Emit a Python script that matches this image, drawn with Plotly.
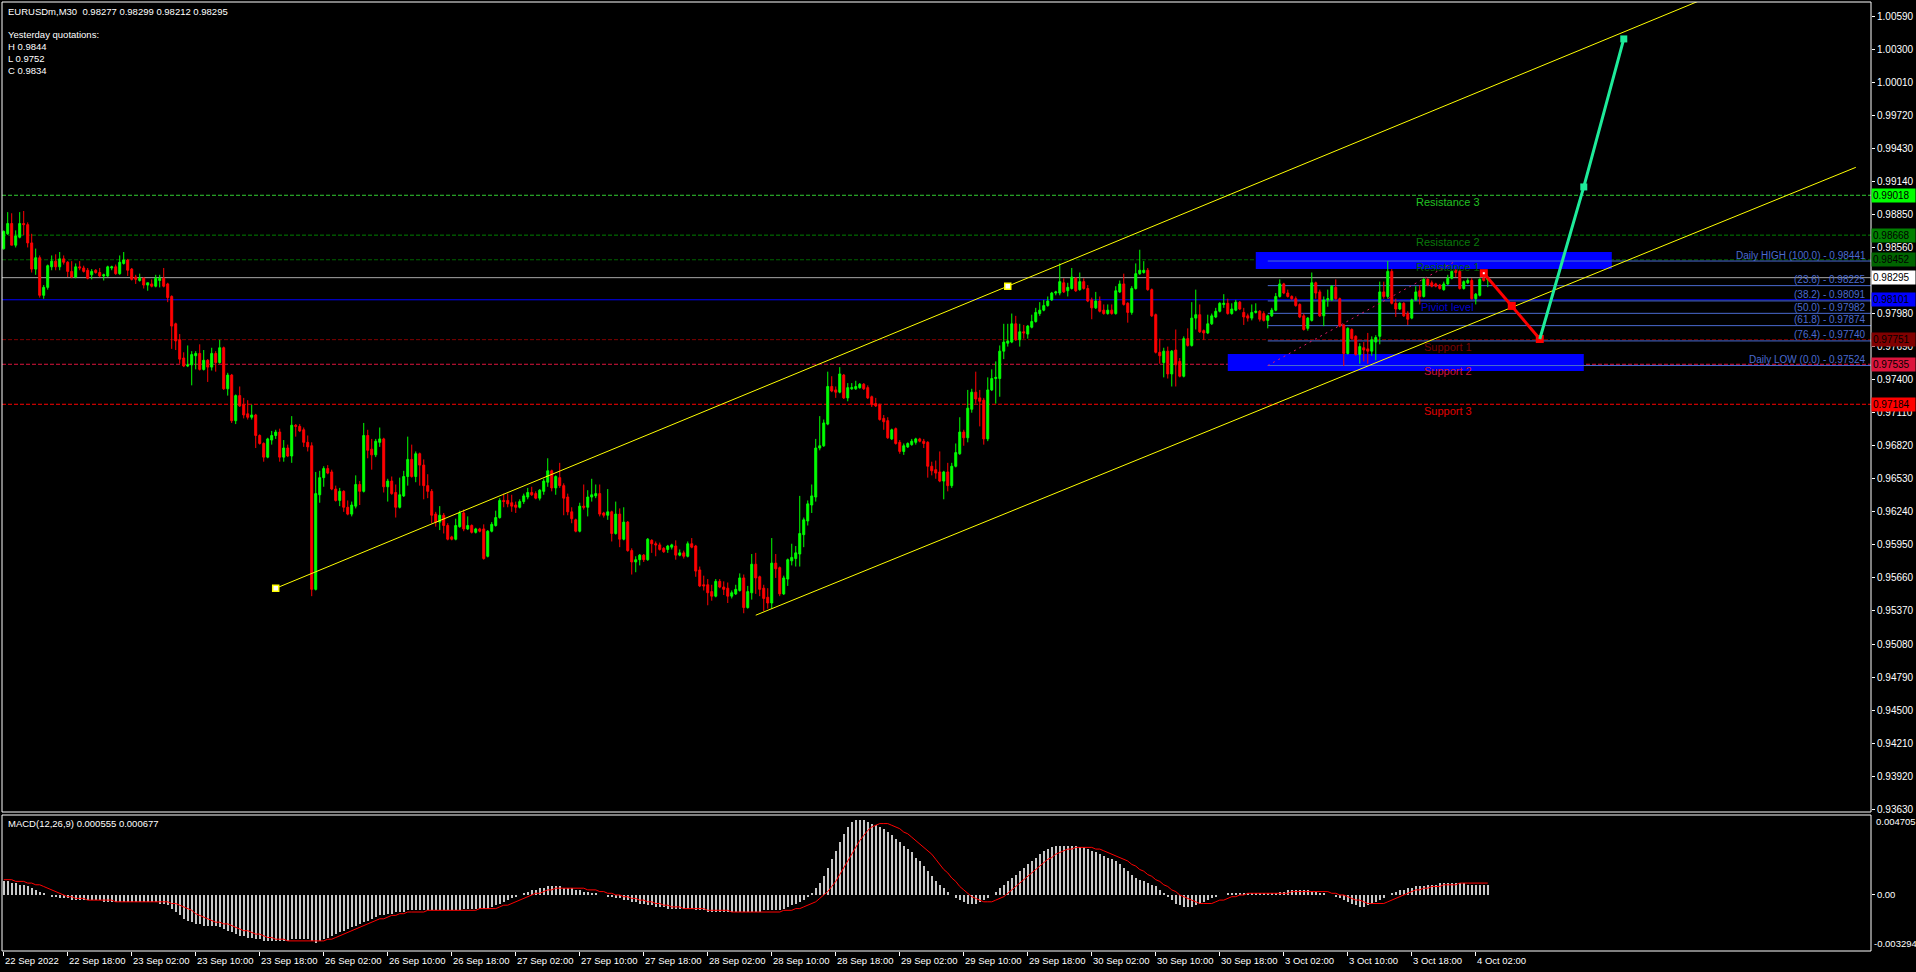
import plotly.graph_objects as go

# ---------------- DATA ----------------
symbol_header = "EURUSDm,M30  0.98277 0.98299 0.98212 0.98295"
yesterday_lines = ["Yesterday quotations:", "H 0.9844", "L 0.9752", "C 0.9834"]

opens = [
 0.9855,0.9868,0.9877,0.9858,0.9865,0.9877,0.9876,0.9860,0.9837,0.9847,
 0.9814,0.9821,0.9839,0.9844,0.9839,0.9846,0.9843,0.9835,0.9830,0.9839,
 0.9838,0.9836,0.9832,0.9836,0.9834,0.9831,0.9831,0.9838,0.9839,0.9833,
 0.9842,0.9845,0.9837,0.9830,0.9827,0.9829,0.9823,0.9824,0.9822,0.9827,
 0.9829,0.9824,0.9813,0.9789,0.9775,0.9759,0.9752,0.9753,0.9761,0.9763,
 0.9749,0.9757,0.9751,0.9763,0.9755,0.9768,0.9732,0.9744,0.9704,0.9726,
 0.9718,0.9710,0.9707,0.9709,0.9691,0.9684,0.9672,0.9687,0.9691,0.9694,
 0.9672,0.9680,0.9673,0.9700,0.9699,0.9696,0.9685,0.9682,0.9556,0.9639,
 0.9654,0.9662,0.9659,0.9644,0.9634,0.9642,0.9628,0.9622,0.9629,0.9648,
 0.9642,0.9691,0.9679,0.9674,0.9685,0.9688,0.9646,0.9651,0.9641,0.9628,
 0.9638,0.9655,0.9670,0.9655,0.9675,0.9665,0.9647,0.9642,0.9622,0.9615,
 0.9621,0.9612,0.9602,0.9600,0.9611,0.9623,0.9609,0.9612,0.9606,0.9609,
 0.9609,0.9585,0.9607,0.9612,0.9619,0.9634,0.9634,0.9632,0.9630,0.9628,
 0.9633,0.9637,0.9641,0.9640,0.9636,0.9642,0.9650,0.9660,0.9645,0.9654,
 0.9647,0.9637,0.9624,0.9617,0.9607,0.9629,0.9628,0.9637,0.9638,0.9640,
 0.9623,0.9621,0.9624,0.9605,0.9622,0.9600,0.9615,0.9590,0.9580,0.9582,
 0.9586,0.9582,0.9599,0.9596,0.9595,0.9592,0.9591,0.9593,0.9594,0.9586,
 0.9588,0.9585,0.9596,0.9594,0.9573,0.9560,0.9560,0.9554,0.9550,0.9563,
 0.9558,0.9557,0.9550,0.9552,0.9555,0.9566,0.9540,0.9553,0.9578,0.9567,
 0.9557,0.9549,0.9544,0.9579,0.9575,0.9552,0.9565,0.9581,0.9583,0.9587,
 0.9604,0.9616,0.9630,0.9637,0.9680,0.9682,0.9701,0.9734,0.9731,0.9729,
 0.9744,0.9724,0.9732,0.9732,0.9733,0.9736,0.9733,0.9725,0.9719,0.9718,
 0.9706,0.9704,0.9688,0.9697,0.9685,0.9677,0.9681,0.9683,0.9685,0.9688,
 0.9686,0.9685,0.9664,0.9661,0.9659,0.9651,0.9659,0.9647,0.9664,0.9675,
 0.9694,0.9689,0.9714,0.9729,0.9724,0.9722,0.9688,0.9731,0.9741,0.9741,
 0.9765,0.9772,0.9773,0.9789,0.9775,0.9782,0.9780,0.9786,0.9791,0.9798,
 0.9801,0.9805,0.9810,0.9816,0.9816,0.9825,0.9818,0.9820,0.9829,0.9819,
 0.9826,0.9820,0.9810,0.9803,0.9809,0.9801,0.9798,0.9801,0.9798,0.9817,
 0.9824,0.9807,0.9799,0.9820,0.9833,0.9834,0.9836,0.9819,0.9797,0.9764,
 0.9755,0.9765,0.9745,0.9766,0.9756,0.9743,0.9776,0.9770,0.9794,0.9797,
 0.9783,0.9781,0.9789,0.9795,0.9800,0.9806,0.9807,0.9798,0.9801,0.9808,
 0.9799,0.9796,0.9794,0.9799,0.9800,0.9798,0.9792,0.9796,0.9801,0.9813,
 0.9824,0.9816,0.9813,0.9811,0.9806,0.9796,0.9785,0.9792,0.9825,0.9817,
 0.9796,0.9810,0.9810,0.9821,0.9811,0.9788,0.9763,0.9784,0.9778,0.9762,
 0.9768,0.9767,0.9765,0.9773,0.9778,0.9817,0.9813,0.9835,0.9807,0.9802,
 0.9807,0.9798,0.9794,0.9810,0.9818,0.9813,0.9828,0.9825,0.9824,0.9823,
 0.9819,0.9824,0.9829,0.9836,0.9835,0.9820,0.9825,0.9827,0.9811,0.9814,0.9829,0.98277,
]
highs = [
 0.9871,0.9887,0.9886,0.9871,0.9887,0.9888,0.9878,0.9868,0.9855,0.9849,
 0.9823,0.9841,0.9849,0.9850,0.9852,0.9849,0.9844,0.9844,0.9842,0.9844,
 0.9840,0.9838,0.9837,0.9837,0.9838,0.9833,0.9840,0.9840,0.9841,0.9849,
 0.9852,0.9846,0.9838,0.9832,0.9833,0.9830,0.9825,0.9828,0.9832,0.9832,
 0.9838,0.9825,0.9814,0.9790,0.9780,0.9764,0.9770,0.9765,0.9765,0.9771,
 0.9766,0.9758,0.9768,0.9765,0.9775,0.9769,0.9746,0.9745,0.9727,0.9734,
 0.9724,0.9722,0.9718,0.9710,0.9692,0.9685,0.9689,0.9695,0.9696,0.9697,
 0.9687,0.9683,0.9708,0.9701,0.9701,0.9698,0.9691,0.9685,0.9659,0.9660,
 0.9664,0.9665,0.9661,0.9647,0.9645,0.9643,0.9634,0.9633,0.9656,0.9651,
 0.9702,0.9696,0.9688,0.9688,0.9698,0.9689,0.9653,0.9655,0.9648,0.9654,
 0.9660,0.9690,0.9683,0.9677,0.9676,0.9670,0.9657,0.9644,0.9624,0.9629,
 0.9623,0.9614,0.9603,0.9618,0.9625,0.9626,0.9620,0.9613,0.9610,0.9610,
 0.9613,0.9608,0.9615,0.9625,0.9636,0.9640,0.9640,0.9639,0.9633,0.9635,
 0.9640,0.9645,0.9646,0.9642,0.9644,0.9653,0.9671,0.9661,0.9656,0.9667,
 0.9649,0.9640,0.9628,0.9618,0.9632,0.9648,0.9643,0.9653,0.9648,0.9648,
 0.9624,0.9644,0.9625,0.9633,0.9627,0.9628,0.9616,0.9592,0.9585,0.9587,
 0.9587,0.9601,0.9600,0.9598,0.9597,0.9593,0.9595,0.9596,0.9599,0.9591,
 0.9590,0.9598,0.9601,0.9595,0.9576,0.9568,0.9565,0.9560,0.9565,0.9565,
 0.9563,0.9562,0.9555,0.9560,0.9570,0.9569,0.9559,0.9587,0.9588,0.9568,
 0.9560,0.9557,0.9601,0.9587,0.9576,0.9568,0.9583,0.9596,0.9594,0.9638,
 0.9619,0.9634,0.9648,0.9688,0.9708,0.9705,0.9747,0.9743,0.9734,0.9751,
 0.9745,0.9737,0.9737,0.9739,0.9737,0.9737,0.9735,0.9726,0.9724,0.9719,
 0.9709,0.9707,0.9697,0.9698,0.9687,0.9684,0.9685,0.9688,0.9689,0.9689,
 0.9688,0.9686,0.9668,0.9669,0.9677,0.9660,0.9667,0.9667,0.9684,0.9707,
 0.9696,0.9731,0.9732,0.9747,0.9731,0.9724,0.9742,0.9749,0.9756,0.9770,
 0.9789,0.9789,0.9798,0.9796,0.9789,0.9788,0.9788,0.9797,0.9803,0.9808,
 0.9810,0.9813,0.9817,0.9818,0.9842,0.9829,0.9825,0.9838,0.9830,0.9834,
 0.9829,0.9823,0.9812,0.9817,0.9813,0.9806,0.9806,0.9806,0.9822,0.9827,
 0.9833,0.9808,0.9822,0.9842,0.9854,0.9844,0.9838,0.9820,0.9798,0.9776,
 0.9768,0.9769,0.9766,0.9784,0.9759,0.9778,0.9785,0.9808,0.9819,0.9806,
 0.9784,0.9797,0.9798,0.9803,0.9808,0.9815,0.9811,0.9807,0.9810,0.9809,
 0.9803,0.9798,0.9806,0.9807,0.9801,0.9800,0.9797,0.9803,0.9816,0.9828,
 0.9825,0.9819,0.9814,0.9813,0.9807,0.9798,0.9795,0.9834,0.9826,0.9819,
 0.9813,0.9819,0.9823,0.9828,0.9812,0.9789,0.9786,0.9785,0.9779,0.9772,
 0.9773,0.9781,0.9778,0.9779,0.9826,0.9826,0.9844,0.9837,0.9811,0.9808,
 0.9808,0.9800,0.9811,0.9822,0.9823,0.9829,0.9829,0.9827,0.9825,0.9824,
 0.9826,0.9832,0.9836,0.9837,0.9836,0.9827,0.9829,0.9829,0.9816,0.9829,0.9830,0.98299,
]
lows = [
 0.9854,0.9867,0.9858,0.9856,0.9864,0.9867,0.9856,0.9834,0.9832,0.9812,
 0.9811,0.9819,0.9836,0.9836,0.9836,0.9841,0.9830,0.9829,0.9829,0.9836,
 0.9834,0.9828,0.9828,0.9833,0.9830,0.9827,0.9830,0.9836,0.9832,0.9832,
 0.9841,0.9831,0.9827,0.9824,0.9826,0.9820,0.9818,0.9821,0.9821,0.9821,
 0.9821,0.9808,0.9767,0.9766,0.9754,0.9751,0.9751,0.9735,0.9749,0.9748,
 0.9748,0.9738,0.9748,0.9747,0.9754,0.9731,0.9726,0.9702,0.9701,0.9716,
 0.9706,0.9705,0.9705,0.9680,0.9683,0.9668,0.9671,0.9683,0.9688,0.9668,
 0.9668,0.9672,0.9667,0.9690,0.9694,0.9681,0.9677,0.9550,0.9555,0.9632,
 0.9646,0.9657,0.9643,0.9633,0.9629,0.9624,0.9621,0.9620,0.9627,0.9630,
 0.9641,0.9671,0.9661,0.9672,0.9681,0.9641,0.9633,0.9639,0.9619,0.9627,
 0.9637,0.9647,0.9654,0.9650,0.9647,0.9635,0.9636,0.9614,0.9611,0.9608,
 0.9605,0.9599,0.9599,0.9599,0.9610,0.9607,0.9608,0.9605,0.9605,0.9606,
 0.9582,0.9584,0.9606,0.9611,0.9618,0.9628,0.9628,0.9624,0.9623,0.9627,
 0.9631,0.9635,0.9638,0.9635,0.9634,0.9639,0.9646,0.9642,0.9639,0.9645,
 0.9621,0.9621,0.9614,0.9606,0.9606,0.9626,0.9620,0.9633,0.9636,0.9620,
 0.9619,0.9617,0.9598,0.9604,0.9593,0.9599,0.9589,0.9569,0.9571,0.9577,
 0.9580,0.9581,0.9588,0.9585,0.9590,0.9588,0.9588,0.9591,0.9582,0.9585,
 0.9583,0.9584,0.9592,0.9567,0.9558,0.9555,0.9542,0.9546,0.9549,0.9557,
 0.9551,0.9544,0.9548,0.9551,0.9554,0.9535,0.9539,0.9547,0.9552,0.9550,
 0.9537,0.9539,0.9539,0.9566,0.9550,0.9551,0.9559,0.9577,0.9576,0.9576,
 0.9593,0.9612,0.9623,0.9633,0.9678,0.9681,0.9700,0.9729,0.9724,0.9728,
 0.9723,0.9721,0.9731,0.9731,0.9732,0.9731,0.9723,0.9716,0.9716,0.9704,
 0.9696,0.9688,0.9687,0.9683,0.9675,0.9674,0.9680,0.9682,0.9683,0.9685,
 0.9680,0.9654,0.9656,0.9653,0.9650,0.9635,0.9642,0.9645,0.9663,0.9674,
 0.9682,0.9685,0.9711,0.9719,0.9699,0.9683,0.9686,0.9730,0.9719,0.9725,
 0.9758,0.9769,0.9772,0.9774,0.9769,0.9776,0.9776,0.9785,0.9790,0.9796,
 0.9800,0.9804,0.9809,0.9814,0.9814,0.9816,0.9813,0.9819,0.9817,0.9818,
 0.9819,0.9808,0.9793,0.9802,0.9799,0.9797,0.9797,0.9797,0.9797,0.9816,
 0.9805,0.9790,0.9797,0.9819,0.9832,0.9833,0.9818,0.9795,0.9763,0.9754,
 0.9742,0.9741,0.9734,0.9734,0.9742,0.9742,0.9769,0.9769,0.9784,0.9781,
 0.9775,0.9780,0.9788,0.9794,0.9799,0.9803,0.9797,0.9797,0.9800,0.9801,
 0.9788,0.9791,0.9792,0.9798,0.9791,0.9791,0.9785,0.9795,0.9800,0.9812,
 0.9815,0.9812,0.9810,0.9804,0.9794,0.9783,0.9783,0.9791,0.9811,0.9795,
 0.9787,0.9804,0.9809,0.9810,0.9786,0.9752,0.9762,0.9775,0.9761,0.9754,
 0.9756,0.9754,0.9761,0.9757,0.9771,0.9811,0.9811,0.9806,0.9795,0.9801,
 0.9795,0.9788,0.9793,0.9809,0.9806,0.9812,0.9822,0.9821,0.9821,0.9819,
 0.9818,0.9823,0.9828,0.9830,0.9819,0.9819,0.9824,0.9810,0.9806,0.9813,0.9826,0.98212,
]
closes = [
 0.9870,0.9877,0.9858,0.9866,0.9877,0.9876,0.9860,0.9837,0.9847,0.9814,
 0.9821,0.9840,0.9844,0.9839,0.9846,0.9843,0.9835,0.9830,0.9839,0.9838,
 0.9835,0.9829,0.9835,0.9834,0.9831,0.9832,0.9839,0.9839,0.9833,0.9843,
 0.9845,0.9836,0.9828,0.9828,0.9829,0.9823,0.9825,0.9822,0.9829,0.9829,
 0.9822,0.9812,0.9787,0.9774,0.9758,0.9752,0.9753,0.9762,0.9763,0.9749,
 0.9757,0.9751,0.9763,0.9755,0.9768,0.9732,0.9744,0.9704,0.9726,0.9717,
 0.9709,0.9707,0.9709,0.9691,0.9684,0.9672,0.9688,0.9691,0.9694,0.9672,
 0.9680,0.9673,0.9700,0.9699,0.9695,0.9685,0.9681,0.9556,0.9640,0.9654,
 0.9662,0.9658,0.9644,0.9634,0.9642,0.9628,0.9622,0.9630,0.9648,0.9642,
 0.9691,0.9678,0.9674,0.9686,0.9688,0.9646,0.9651,0.9640,0.9628,0.9639,
 0.9655,0.9670,0.9655,0.9675,0.9665,0.9647,0.9642,0.9621,0.9615,0.9621,
 0.9612,0.9600,0.9600,0.9612,0.9623,0.9609,0.9612,0.9606,0.9609,0.9607,
 0.9583,0.9607,0.9613,0.9619,0.9634,0.9633,0.9631,0.9629,0.9628,0.9633,
 0.9638,0.9641,0.9639,0.9636,0.9643,0.9651,0.9660,0.9645,0.9655,0.9647,
 0.9636,0.9624,0.9618,0.9607,0.9629,0.9628,0.9637,0.9639,0.9640,0.9622,
 0.9621,0.9624,0.9605,0.9622,0.9600,0.9615,0.9590,0.9580,0.9582,0.9586,
 0.9582,0.9600,0.9596,0.9595,0.9591,0.9589,0.9594,0.9595,0.9586,0.9588,
 0.9585,0.9596,0.9593,0.9572,0.9559,0.9559,0.9553,0.9550,0.9563,0.9558,
 0.9556,0.9550,0.9553,0.9556,0.9566,0.9540,0.9554,0.9578,0.9566,0.9556,
 0.9548,0.9544,0.9579,0.9574,0.9552,0.9566,0.9582,0.9584,0.9588,0.9605,
 0.9617,0.9631,0.9638,0.9680,0.9682,0.9702,0.9734,0.9730,0.9729,0.9745,
 0.9724,0.9733,0.9733,0.9734,0.9736,0.9732,0.9724,0.9718,0.9717,0.9705,
 0.9703,0.9689,0.9696,0.9684,0.9677,0.9682,0.9684,0.9686,0.9688,0.9686,
 0.9684,0.9664,0.9660,0.9658,0.9651,0.9659,0.9647,0.9664,0.9676,0.9694,
 0.9689,0.9715,0.9729,0.9723,0.9721,0.9688,0.9731,0.9741,0.9742,0.9765,
 0.9773,0.9774,0.9789,0.9775,0.9782,0.9781,0.9787,0.9791,0.9799,0.9801,
 0.9805,0.9809,0.9816,0.9817,0.9826,0.9817,0.9821,0.9830,0.9818,0.9826,
 0.9820,0.9809,0.9803,0.9809,0.9800,0.9798,0.9801,0.9798,0.9818,0.9824,
 0.9806,0.9799,0.9820,0.9833,0.9836,0.9836,0.9819,0.9796,0.9764,0.9761,
 0.9765,0.9745,0.9765,0.9753,0.9743,0.9776,0.9770,0.9794,0.9797,0.9782,
 0.9781,0.9789,0.9796,0.9800,0.9807,0.9807,0.9798,0.9802,0.9808,0.9802,
 0.9795,0.9794,0.9799,0.9800,0.9793,0.9792,0.9796,0.9801,0.9813,0.9824,
 0.9816,0.9813,0.9811,0.9805,0.9795,0.9784,0.9794,0.9825,0.9816,0.9796,
 0.9810,0.9811,0.9822,0.9811,0.9787,0.9763,0.9785,0.9776,0.9762,0.9769,
 0.9766,0.9765,0.9775,0.9777,0.9817,0.9813,0.9835,0.9807,0.9802,0.9807,
 0.9796,0.9793,0.9810,0.9817,0.9813,0.9828,0.9823,0.9822,0.9822,0.9820,
 0.9824,0.9829,0.9835,0.9834,0.9820,0.9826,0.9827,0.9811,0.9815,0.9828,0.9827,0.98295,
]

# MACD(12,26,9) main (histogram) and signal, read in units of 1e-4
macd_main_e4 = (
 [8,8,7,7,6,6,5,4,3] +
 [2,1,0,-1,-1,-2,-2,-2,-3,-3] +
 [-3,-3,-3,-3,-3,-3,-4,-4,-4,-4,-4,-4,-4,-4,-4,-4,-4,-4,-4,-4,-5] +
 [-5,-6,-8,-10,-12,-14,-15,-16,-17,-17,-18,-18,-18,-18,-19,-20,-21,-22,-23,-24] +
 [-24,-25,-25,-26,-26,-27,-27,-27,-27,-27,-27,-27,-26,-26,-26,-26,-26,-27] +
 [-28,-27,-26,-25,-24,-23,-22,-21,-20,-19,-18,-17,-16,-15] +
 [-14,-13,-12,-12,-11,-11,-10,-10,-10,-9,-9,-9,-9,-9,-9,-9,-9,-9,-9,-9] +
 [-9,-9,-9,-8,-8,-8,-8,-8,-8,-8,-7,-6,-5,-4,-3,-2,-1,0,1] +
 [2,3,3,4,4,5,5,5,5,4,4,4,3,3,2,2,1,1] +
 [0,0,-1,-1,-2,-2,-3,-3,-4,-4,-5,-5] +
 [-6,-6,-7,-7,-7,-8,-8,-8,-8,-8,-8,-8,-9,-9,-9,-10,-10,-10,-10,-10,
  -10,-10,-10,-10,-10,-10,-10,-10,-10,-9,-9,-9,-9,-9,-8,-7,-6,-5,-4,-3] +
 [-1,1,4,7,11,16,21,26,31,36,40,43,44,44,44,43,42,41,40,39,37,35,33,31,29,27,25,22,20,17] +
 [14,11,8,6,4,2,0,-2,-3,-4,-5,-5,-5,-4,-3,-2,0,2,4,6] +
 [8,10,12,14,16,18,20,22,24,26,27,28,29,29,29,29,29,29,28,28,27,26,25,24,23] +
 [22,21,20,18,16,14,12,10,9,8,7,6,5,3,1,-1,-3,-5,-6,-7,-7,-7,-6,-5,-4] +
 [-3,-2,-1,0,0,1,1,1,1,1,1,1,1,1,1,1,1,1,2,2,3,3,3,3,3,3,2,2,1,1] +
 [0,0,-1,-2,-3,-4,-5,-6,-7,-7,-6,-5,-4,-3,-2] +
 [0,1,2,3,3,4,4,5,5,5,6,6,6,7,7,7,7,7,7,7,6,6,6,6,6,6]
)
macd_signal_e4 = (
 [9,9,9,8,8,8,7,7,6] +
 [6,5,4,3,2,1,0,-1,-1,-2] +
 [-2,-2,-3,-3,-3,-3,-3,-3,-3,-4,-4,-4,-4,-4,-4,-4,-4,-4,-4,-4,-4] +
 [-4,-4,-5,-5,-6,-7,-8,-9,-11,-12,-13,-14,-15,-16,-16,-17,-17,-18,-19,-20] +
 [-21,-21,-22,-23,-23,-24,-25,-25,-26,-26,-26,-27,-27,-27,-27,-27,-27,-27] +
 [-27,-27,-27,-26,-26,-25,-24,-23,-22,-21,-20,-19,-18,-17] +
 [-16,-15,-14,-14,-13,-12,-12,-11,-11,-10,-10,-10,-10,-10,-9,-9,-9,-9,-9,-9] +
 [-9,-9,-9,-9,-9,-9,-9,-8,-8,-8,-8,-8,-7,-6,-6,-5,-4,-3,-2] +
 [-1,0,1,1,2,3,3,4,4,4,4,4,4,4,4,3,3,3] +
 [2,2,1,1,0,0,-1,-1,-2,-2,-3,-3] +
 [-4,-4,-5,-5,-6,-6,-7,-7,-7,-8,-8,-8,-8,-8,-8,-9,-9,-9,-9,-9,
  -9,-10,-10,-10,-10,-10,-10,-10,-10,-10,-10,-10,-10,-10,-9,-9,-9,-8,-8,-7] +
 [-6,-5,-4,-2,0,2,5,8,12,16,20,24,28,32,35,38,40,41,42,42,42,41,40,39,37,36,34,32,30,28] +
 [26,24,21,18,15,13,10,8,5,3,1,-1,-2,-3,-4,-4,-4,-3,-2,-1] +
 [1,3,5,7,9,11,13,15,17,19,21,22,24,25,26,27,27,28,28,28,28,28,27,27,26] +
 [25,24,23,22,21,20,18,17,15,14,12,11,9,8,6,5,3,2,0,-1,-2,-3,-4,-5,-5] +
 [-5,-5,-4,-3,-3,-2,-1,-1,0,0,1,1,1,1,1,1,1,1,1,1,1,2,2,2,2,2,2,2,2,2] +
 [2,1,1,0,0,-1,-2,-3,-3,-4,-5,-5,-5,-5,-5] +
 [-4,-3,-2,-1,0,1,2,3,3,4,4,5,5,5,6,6,6,6,7,7,7,7,7,7,7,7]
)
macd_label = "MACD(12,26,9) 0.000555 0.000677"
macd_axis_max = 0.004705
macd_axis_min = -0.003294

# time axis (bar index of each label)
time_label_bars = [0,16,32,48,64,80,96,112,128,144,160,176,192,208,224,240,256,272,288,304,320,336,352,368]
time_labels = ["22 Sep 2022","22 Sep 18:00","23 Sep 02:00","23 Sep 10:00","23 Sep 18:00",
               "26 Sep 02:00","26 Sep 10:00","26 Sep 18:00","27 Sep 02:00","27 Sep 10:00",
               "27 Sep 18:00","28 Sep 02:00","28 Sep 10:00","28 Sep 18:00","29 Sep 02:00",
               "29 Sep 10:00","29 Sep 18:00","30 Sep 02:00","30 Sep 10:00","30 Sep 18:00",
               "3 Oct 02:00","3 Oct 10:00","3 Oct 18:00","4 Oct 02:00"]

price_ticks = [0.93630,0.93920,0.94210,0.94500,0.94790,0.95080,0.95370,0.95660,0.95950,
               0.96240,0.96530,0.96820,0.97110,0.97400,0.97690,0.97980,0.98270,0.98560,
               0.98850,0.99140,0.99430,0.99720,1.00010,1.00300,1.00590]
price_range = [0.93606, 1.00714]

# pivot levels
level_names = ["Resistance 3","Resistance 2","Resistance 1","Piviot level","Support 1","Support 2","Support 3"]
level_values = [0.99018,0.98668,0.98452,0.98101,0.97751,0.97535,0.97184]
level_line_colors = ["#32CD32","#008000","#006400","#0000FF","#800000","#DC143C","#FF0000"]
level_text_colors = ["#22C322","#0A7A0A","#065F06","#0000D0","#7A0000","#D0123A","#E00000"]
level_box_colors = ["#00FF00","#008000","#006400","#0000FF","#800000","#DC143C","#FF0000"]
level_dashed = [True, True, True, False, True, True, True]
level_label_bar = 361
bid_price = 0.98295

# Fibonacci of yesterday (3 Oct)
fib_pcts = ["Daily HIGH (100.0)","(23.6)","(38.2)","(50.0)","(61.8)","(76.4)","Daily LOW (0.0)"]
fib_values = [0.98441,0.98225,0.98091,0.97982,0.97874,0.97740,0.97524]
fib_start_bar = 316
fib_end_bar = 363

# zones (bar from, bar to, price low, price high)
zone_bars = [[313, 402], [306, 395]]
zone_prices = [[0.98370, 0.98520], [0.97476, 0.97625]]

# channel
upper_anchor_bars = [68, 251]
upper_anchor_prices = [0.95569, 0.98220]
lower_bars = [188, 463]
lower_prices = [0.95333, 0.99263]

# forecast path
down_bars = [370, 377, 384]
down_prices = [0.98334, 0.98047, 0.97757]
up_bars = [384, 395, 405]
up_prices = [0.97757, 0.99091, 1.00390]

# ---------------- FIGURE ----------------
W, H = 1916, 972
L, R, T, B = 2, 45, 2, 21
ph = H - T - B
main_bottom_px = 812
macd_top_px = 815
main_dom = [(H - B - main_bottom_px) / ph, 1.0]
macd_dom = [0.0, (H - B - macd_top_px) / ph]
x_range = [-0.425, 466.8]
FONT = "Liberation Sans, Arial, sans-serif"

n = min(len(opens), len(highs), len(lows), len(closes))
bars = list(range(n))

fig = go.Figure()

fig.add_trace(go.Candlestick(
    x=bars, open=opens[:n], high=highs[:n], low=lows[:n], close=closes[:n],
    increasing=dict(line=dict(color="#00FF00", width=1), fillcolor="#00FF00"),
    decreasing=dict(line=dict(color="#FF0000", width=1), fillcolor="#FF0000"),
    whiskerwidth=0, hoverinfo="skip", showlegend=False, xaxis="x", yaxis="y"))

# channel lines
slope = (upper_anchor_prices[1] - upper_anchor_prices[0]) / (upper_anchor_bars[1] - upper_anchor_bars[0])
fig.add_trace(go.Scatter(
    x=[upper_anchor_bars[0], x_range[1]],
    y=[upper_anchor_prices[0], upper_anchor_prices[0] + slope * (x_range[1] - upper_anchor_bars[0])],
    mode="lines", line=dict(color="#FFFF00", width=1), hoverinfo="skip", showlegend=False))
fig.add_trace(go.Scatter(
    x=lower_bars, y=lower_prices, mode="lines", line=dict(color="#FFFF00", width=1),
    hoverinfo="skip", showlegend=False))
fig.add_trace(go.Scatter(
    x=upper_anchor_bars, y=upper_anchor_prices, mode="markers",
    marker=dict(symbol="square", size=6, color="#FFFFFF", line=dict(color="#FFFF00", width=1.5)),
    hoverinfo="skip", showlegend=False))

# fib diagonal
fig.add_trace(go.Scatter(
    x=[fib_start_bar, fib_end_bar], y=[fib_values[-1], fib_values[0]], mode="lines",
    line=dict(color="#E0186A", width=1, dash="2px,4px"), hoverinfo="skip", showlegend=False))

# forecast path
fig.add_trace(go.Scatter(x=down_bars, y=down_prices, mode="lines+markers",
    line=dict(color="#FF0000", width=3),
    marker=dict(symbol="square", size=8, color="#FF0000"), hoverinfo="skip", showlegend=False))
fig.add_trace(go.Scatter(x=up_bars, y=up_prices, mode="lines",
    line=dict(color="#1EEB9A", width=3), hoverinfo="skip", showlegend=False))
fig.add_trace(go.Scatter(x=up_bars[1:], y=up_prices[1:], mode="markers",
    marker=dict(symbol="square", size=7, color="#1EEB9A"), hoverinfo="skip", showlegend=False))
fig.add_trace(go.Scatter(x=down_bars[:1], y=down_prices[:1], mode="markers",
    marker=dict(symbol="square", size=2, color="#FFFFFF"), hoverinfo="skip", showlegend=False))

# MACD
m = min(len(macd_main_e4), len(macd_signal_e4))
fig.add_trace(go.Bar(x=list(range(m)), y=[v * 1e-4 for v in macd_main_e4[:m]], width=0.55,
    marker=dict(color="#C8C8C8", line=dict(width=0)), xaxis="x", yaxis="y2",
    hoverinfo="skip", showlegend=False))
fig.add_trace(go.Scatter(x=list(range(m)), y=[v * 1e-4 for v in macd_signal_e4[:m]], mode="lines",
    line=dict(color="#FF0000", width=1), xaxis="x", yaxis="y2", hoverinfo="skip", showlegend=False))

shapes = []
for (b0, b1), (p0, p1) in zip(zone_bars, zone_prices):
    shapes.append(dict(type="rect", xref="x", yref="y", x0=b0, x1=b1, y0=p0, y1=p1,
                       fillcolor="#0000FF", line=dict(width=0), layer="below"))
for v, c, d in zip(level_values, level_line_colors, level_dashed):
    shapes.append(dict(type="line", xref="x domain", yref="y", x0=0, x1=1, y0=v, y1=v,
                       line=dict(color=c, width=1, dash="4px,2px" if d else "solid"), layer="below"))
shapes.append(dict(type="line", xref="x domain", yref="y", x0=0, x1=1, y0=bid_price, y1=bid_price,
                   line=dict(color="#A8A8A8", width=1), layer="below"))
for v in fib_values:
    shapes.append(dict(type="line", xref="x", yref="y", x0=fib_start_bar, x1=x_range[1], y0=v, y1=v,
                       line=dict(color="#4A6AD0", width=1), layer="below"))
shapes.append(dict(type="rect", xref="paper", yref="paper", x0=0, x1=1, y0=main_dom[0], y1=1,
                   line=dict(color="#FFFFFF", width=1), fillcolor="rgba(0,0,0,0)"))
shapes.append(dict(type="rect", xref="paper", yref="paper", x0=0, x1=1, y0=0, y1=macd_dom[1],
                   line=dict(color="#FFFFFF", width=1), fillcolor="rgba(0,0,0,0)"))

ann = []
ann.append(dict(xref="paper", yref="paper", x=0, y=1, xanchor="left", yanchor="middle",
                xshift=4, yshift=-9, text=symbol_header, showarrow=False,
                font=dict(family=FONT, size=9.5, color="#FFFFFF")))
for k, t in enumerate(yesterday_lines):
    ann.append(dict(xref="paper", yref="paper", x=0, y=1, xanchor="left", yanchor="middle",
                    xshift=4, yshift=-(32 + 12 * k), text=t, showarrow=False,
                    font=dict(family=FONT, size=9.5, color="#FFFFFF")))
for name, v, c in zip(level_names, level_values, level_text_colors):
    ann.append(dict(xref="x", yref="y", x=level_label_bar, y=v, xanchor="center", yanchor="middle",
                    yshift=-7, text=name, showarrow=False, font=dict(family=FONT, size=11, color=c)))
for p, v in zip(fib_pcts, fib_values):
    ann.append(dict(xref="paper", yref="y", x=1, y=v, xanchor="right", yanchor="middle",
                    xshift=-4, yshift=6, text=f"{p} - {v:.5f}", showarrow=False, borderpad=0,
                    font=dict(family=FONT, size=10, color="#4A6AD0")))
for v, c in zip(level_values, level_box_colors):
    ann.append(dict(xref="paper", yref="y", x=1, y=v, xanchor="left", yanchor="middle", xshift=0,
                    text=f"{v:.5f}", showarrow=False, bgcolor=c, width=41, height=11, borderpad=1,
                    align="left", font=dict(family=FONT, size=10, color="#000000")))
ann.append(dict(xref="paper", yref="y", x=1, y=bid_price, xanchor="left", yanchor="middle", xshift=0,
                text=f"{bid_price:.5f}", showarrow=False, bgcolor="#FFFFFF", width=41, height=11,
                borderpad=1, align="left", font=dict(family=FONT, size=10, color="#000000")))
for b, t in zip(time_label_bars, time_labels):
    ann.append(dict(xref="x", yref="paper", x=b, y=0, xanchor="left", yanchor="top", xshift=-1,
                    yshift=-2, text=t, showarrow=False, font=dict(family=FONT, size=9.5, color="#FFFFFF")))
ann.append(dict(xref="paper", yref="paper", x=0, y=macd_dom[1], xanchor="left", yanchor="middle",
                xshift=4, yshift=-8, text=macd_label, showarrow=False,
                font=dict(family=FONT, size=9.5, color="#FFFFFF")))
ann.append(dict(xref="paper", yref="paper", x=1, y=macd_dom[1], xanchor="left", yanchor="top",
                xshift=3, yshift=1, text=f"{macd_axis_max:.6f}", showarrow=False,
                font=dict(family=FONT, size=9.5, color="#FFFFFF")))
ann.append(dict(xref="paper", yref="paper", x=1, y=0, xanchor="left", yanchor="bottom",
                xshift=1, yshift=0, text=f"{macd_axis_min:.6f}", showarrow=False,
                font=dict(family=FONT, size=9.5, color="#FFFFFF")))

# tick labels fully hidden behind the bid box in the reference are left blank
box_vals = [bid_price]
tick_text = [("" if min(abs(v - b) for b in box_vals) < 0.0004 else f"{v:.5f}") for v in price_ticks]

fig.update_layout(
    width=W, height=H, margin=dict(l=L, r=R, t=T, b=B, pad=0),
    paper_bgcolor="#000000", plot_bgcolor="#000000",
    showlegend=False, shapes=shapes, annotations=ann, boxgap=0.3, boxgroupgap=0.3,
    bargap=0,
    xaxis=dict(domain=[0, 1], range=x_range, anchor="y2", showgrid=False, zeroline=False,
               showline=False, ticks="outside", ticklen=4, tickcolor="#FFFFFF", tickwidth=1,
               tickvals=time_label_bars, showticklabels=False, rangeslider=dict(visible=False),
               fixedrange=True),
    yaxis=dict(domain=main_dom, range=price_range, anchor="x", side="right", showgrid=False,
               zeroline=False, showline=False, ticks="outside", ticklen=3, tickcolor="#FFFFFF",
               tickvals=price_ticks, ticktext=tick_text,
               tickfont=dict(family=FONT, size=10, color="#FFFFFF"), fixedrange=True),
    yaxis2=dict(domain=macd_dom, range=[macd_axis_min, macd_axis_max], anchor="x", side="right",
                showgrid=False, zeroline=False, showline=False, ticks="outside", ticklen=3,
                tickcolor="#FFFFFF", tickvals=[0], ticktext=["0.00"],
                tickfont=dict(family=FONT, size=9.5, color="#FFFFFF"), fixedrange=True),
)

fig.write_html("out.html",
               config={"displayModeBar": False, "staticPlot": True},
               post_script="document.body.style.margin='0px';document.body.style.padding='0px';"
                           "document.body.style.overflow='hidden';"
                           "document.documentElement.style.background='#000';")
